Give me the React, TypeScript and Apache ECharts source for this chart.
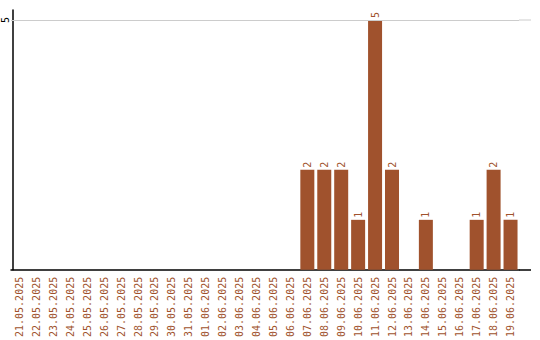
import React, { useEffect, useRef } from "react";
import * as echarts from "echarts";

const categories: string[] = [
  "21.05.2025", "22.05.2025", "23.05.2025", "24.05.2025", "25.05.2025",
  "26.05.2025", "27.05.2025", "28.05.2025", "29.05.2025", "30.05.2025",
  "31.05.2025", "01.06.2025", "02.06.2025", "03.06.2025", "04.06.2025",
  "05.06.2025", "06.06.2025", "07.06.2025", "08.06.2025", "09.06.2025",
  "10.06.2025", "11.06.2025", "12.06.2025", "13.06.2025", "14.06.2025",
  "15.06.2025", "16.06.2025", "17.06.2025", "18.06.2025", "19.06.2025",
];

const counts: (number | null)[] = [
  null, null, null, null, null, null, null, null, null, null,
  null, null, null, null, null, null, null, 2, 2, 2,
  1, 5, 2, null, 1, null, null, 1, 2, 1,
];

const yMax = 5.2;
const gridValue = 5;

const BROWN = "#a0522d";
const FONT = "DejaVu Sans Mono";

export default function App() {
  const ref = useRef<HTMLDivElement>(null);
  useEffect(() => {
    if (!ref.current) return;
    const chart = echarts.init(ref.current, null, { renderer: "svg" });
    chart.setOption({
      animation: false,
      grid: { left: 9, right: 21, top: 10, bottom: 70, containLabel: false },
      xAxis: {
        type: "category",
        data: categories,
        axisLine: { lineStyle: { color: "#000", width: 1.5 } },
        axisTick: { show: false },
        axisLabel: {
          rotate: 90,
          interval: 0,
          color: BROWN,
          fontFamily: FONT,
          fontSize: 10,
          margin: 7,
        },
      },
      yAxis: {
        type: "value",
        min: 0,
        max: yMax,
        interval: 5,
        offset: -2,
        axisLine: { show: true, lineStyle: { color: "#000", width: 1.5 } },
        axisTick: { show: false },
        splitLine: { show: false },
        axisLabel: {
          rotate: 90,
          color: "#000",
          fontFamily: FONT,
          fontSize: 10,
          margin: 3,
          showMinLabel: false,
          showMaxLabel: false,
          formatter: (v: number) => (v === gridValue ? String(v) : ""),
        },
      },
      graphic: [
        { type: "line", shape: { x1: 519, y1: 20, x2: 531, y2: 20 }, style: { stroke: "#cccccc", lineWidth: 1 } },
        { type: "line", shape: { x1: 519, y1: 270, x2: 531, y2: 270 }, style: { stroke: "#000", lineWidth: 1.5 } },
      ],
      series: [
        {
          type: "bar",
          data: counts,
          barWidth: 14,
          itemStyle: { color: BROWN },
          label: {
            show: true,
            position: "top",
            rotate: 90,
            align: "left",
            verticalAlign: "middle",
            distance: 2,
            color: BROWN,
            fontFamily: FONT,
            fontSize: 10,
          },
          markLine: {
            silent: true,
            symbol: "none",
            label: { show: false },
            lineStyle: { color: "#cccccc", type: "solid", width: 1 },
            data: [{ yAxis: gridValue }],
          },
        },
      ],
    });
    return () => chart.dispose();
  }, []);
  return <div ref={ref} style={{ width: 540, height: 340, position: "absolute", left: 0, top: 0 }} />;
}
